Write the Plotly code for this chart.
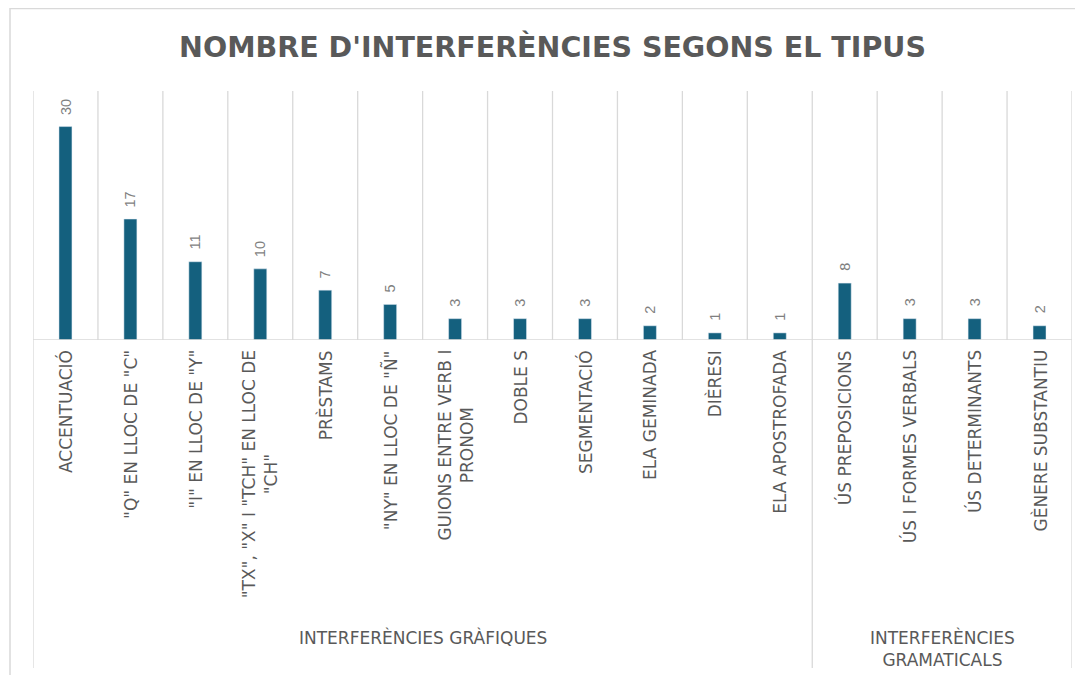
import plotly.graph_objects as go

categories = [
    "ACCENTUACIÓ",
    "\"Q\" EN LLOC DE \"C\"",
    "\"I\" EN LLOC DE \"Y\"",
    "\"TX\", \"X\" I \"TCH\" EN LLOC DE<br>\"CH\"",
    "PRÈSTAMS",
    "\"NY\" EN LLOC DE \"Ñ\"",
    "GUIONS ENTRE VERB I<br>PRONOM",
    "DOBLE S",
    "SEGMENTACIÓ",
    "ELA GEMINADA",
    "DIÈRESI",
    "ELA APOSTROFADA",
    "ÚS PREPOSICIONS",
    "ÚS I FORMES VERBALS",
    "ÚS DETERMINANTS",
    "GÈNERE SUBSTANTIU",
]
values = [30, 17, 11, 10, 7, 5, 3, 3, 3, 2, 1, 1, 8, 3, 3, 2]
groups = ["INTERFERÈNCIES GRÀFIQUES", "INTERFERÈNCIES<br>GRAMATICALS"]
group_sizes = [12, 4]
title = "NOMBRE D'INTERFERÈNCIES SEGONS EL TIPUS"

BAR = "#14607e"
TXT = "#595959"
GRID = "#d9d9d9"
FONT = "DejaVu Sans"

# figure geometry (page has an 8px body margin)
W, H = 1075, 667
ML, MR, MT, MB = 25, 11, 83, 335
PH = H - MT - MB
PW = W - ML - MR

def py(fig_y):
    return (H - MB - fig_y) / PH

def px(fig_x):
    return (fig_x - ML) / PW

x = list(range(len(categories)))
fig = go.Figure(go.Bar(x=x, y=values, marker_color=BAR, width=0.2, hoverinfo="skip"))

ann = []
for i, (c, v) in enumerate(zip(categories, values)):
    ann.append(dict(x=i, y=0, xref="x", yref="y", text=c, textangle=-90,
                    xanchor="center", yanchor="top", yshift=-8, showarrow=False,
                    align="center", font=dict(family=FONT, size=17, color=TXT)))
    ann.append(dict(x=i, y=v, xref="x", yref="y", text=str(v), textangle=-90,
                    xanchor="center", yanchor="bottom", yshift=10, showarrow=False,
                    font=dict(family="Liberation Sans", size=14.5, color="#7f7f7f")))

shapes = []
for k in range(len(categories) + 1):
    shapes.append(dict(type="line", xref="x", yref="paper", x0=k - 0.5, x1=k - 0.5,
                       y0=0, y1=1, line=dict(color=GRID, width=1.3), layer="below"))
start = 0
bounds = [-0.5]
for gname, gs in zip(groups, group_sizes):
    center = start + (gs - 1) / 2
    ann.append(dict(x=center, y=py(617), xref="x", yref="paper", text=gname,
                    xanchor="center", yanchor="top", showarrow=False, align="center",
                    font=dict(family=FONT, size=17, color=TXT)))
    start += gs
    bounds.append(start - 0.5)
for b in bounds:
    shapes.append(dict(type="line", xref="x", yref="paper", x0=b, x1=b,
                       y0=py(660), y1=0, line=dict(color=GRID, width=1.3), layer="below"))
shapes.append(dict(type="line", xref="paper", yref="y", x0=0, x1=1, y0=0, y1=0,
                   line=dict(color=GRID, width=1.5)))
# outer frame (top & left)
shapes.append(dict(type="line", xref="paper", yref="paper", x0=px(2), x1=px(W),
                   y0=py(0.5), y1=py(0.5), line=dict(color=GRID, width=1.5)))
shapes.append(dict(type="line", xref="paper", yref="paper", x0=px(2), x1=px(2),
                   y0=py(0), y1=py(H), line=dict(color=GRID, width=1.5)))

fig.update_layout(
    width=W, height=H,
    margin=dict(l=ML, r=MR, t=MT, b=MB),
    plot_bgcolor="white", paper_bgcolor="white",
    showlegend=False,
    title=dict(text="<b>" + title + "</b>", x=0.5, xref="paper", xanchor="center",
               y=1 - 39 / H, yref="container", yanchor="middle",
               font=dict(family="DejaVu Sans", size=28.5, color=TXT)),
    xaxis=dict(range=[-0.5, len(categories) - 0.5], showticklabels=False, showgrid=False,
               zeroline=False, showline=False, fixedrange=True),
    yaxis=dict(range=[0, 35], showticklabels=False, showgrid=False, zeroline=False,
               showline=False, fixedrange=True),
    annotations=ann,
    shapes=shapes,
)
fig.write_html("out.html")
